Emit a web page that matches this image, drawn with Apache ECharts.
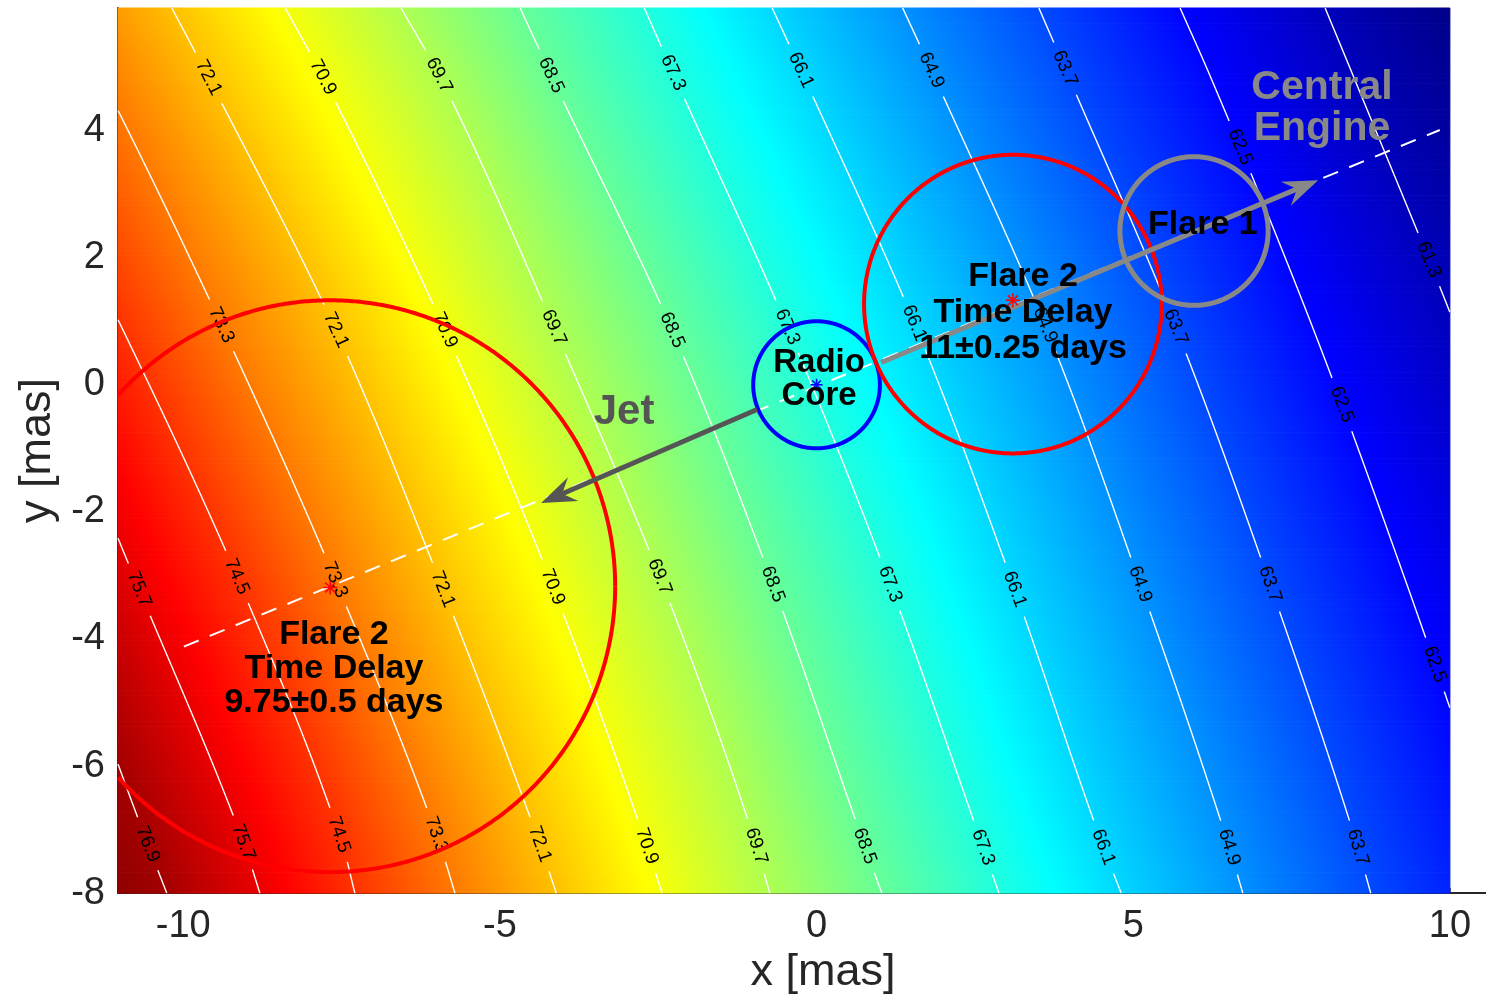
<!DOCTYPE html>
<html><head><meta charset="utf-8">
<script src="https://cdn.jsdelivr.net/npm/echarts@6/dist/echarts.min.js"></script>
<style>html,body{margin:0;padding:0;background:#fff}#chart{width:1486px;height:1000px}</style>
</head><body><div id="chart"></div>
<script>
// ================= DATA =================
// contour levels (first and last are estimated outer levels used for the corner fill only)
const contourLevels = [78.1, 76.9, 75.7, 74.5, 73.3, 72.1, 70.9, 69.7, 68.5, 67.3, 66.1, 64.9, 63.7, 62.5, 61.3, 60.1];
// y rows (mas) at which the contour x positions were read
const rowY = [5.93, 4.87, 0.86, -3.14, -7.23, -8.0];
// x position (mas) of each contour at each row
const x78_1 = [-17.79, -17.23, -15.26, -13.52, -11.98, -11.66];
const x76_9 = [-16.35, -15.80, -13.78, -12.09, -10.56, -10.26];
const x75_7 = [-14.99, -14.44, -12.42, -10.73, -9.04, -8.79];
const x74_5 = [-13.52, -12.97, -10.95, -9.10, -7.49, -7.29];
const x73_3 = [-11.88, -11.31, -9.36, -7.57, -5.95, -5.71];
const x72_1 = [-10.18, -9.62, -7.59, -5.93, -4.37, -4.11];
const x70_9 = [-8.39, -7.81, -5.87, -4.18, -2.69, -2.44];
const x69_7 = [-6.56, -5.96, -4.13, -2.43, -0.96, -0.74];
const x68_5 = [-4.68, -4.19, -2.28, -0.69, 0.75, 1.03];
const x67_3 = [-2.72, -2.25, -0.44, 1.16, 2.61, 2.88];
const x66_1 = [-0.70, -0.21, 1.59, 3.10, 4.51, 4.81];
const x64_9 = [1.36, 1.85, 3.64, 5.11, 6.50, 6.73];
const x63_7 = [3.51, 3.97, 5.69, 7.16, 8.53, 8.75];
const x62_5 = [5.74, 6.21, 7.85, 9.32, 10.74, 11.01];
const x61_3 = [8.03, 8.47, 10.11, 11.59, 13.00, 13.27];
const x60_1 = [10.39, 10.87, 12.45, 13.95, 15.37, 15.65];
const contourX = [x78_1, x76_9, x75_7, x74_5, x73_3, x72_1, x70_9, x69_7, x68_5, x67_3, x66_1, x64_9, x63_7, x62_5, x61_3, x60_1];

// contour labels: level and y (mas) of the label centre
const labelLevel = [72.1,70.9,69.7,68.5,67.3,66.1,64.9,63.7,62.5,61.3,
  73.3,72.1,70.9,69.7,68.5,67.3,66.1,64.9,63.7,62.5,
  75.7,74.5,73.3,72.1,70.9,69.7,68.5,67.3,66.1,64.9,63.7,62.5,
  76.9,75.7,74.5,73.3,72.1,70.9,69.7,68.5,67.3,66.1,64.9,63.7];
const labelY = [4.83,4.84,4.87,4.87,4.91,4.95,4.95,4.98,3.74,1.97,
  0.94,0.86,0.86,0.90,0.86,0.91,0.97,0.94,0.91,-0.31,
  -3.22,-3.02,-3.07,-3.22,-3.18,-3.02,-3.14,-3.14,-3.22,-3.14,-3.14,-4.40,
  -7.23,-7.20,-7.08,-7.08,-7.23,-7.26,-7.26,-7.26,-7.28,-7.28,-7.28,-7.28];

// colour range of the map
const colorMin = 60.3, colorMax = 77.5;
// extent of the coloured map
const mapXMin = -11.03, mapXMax = 10, mapYMin = -8, mapYMax = 5.93;
// axis ticks
const xTicks = [-10, -5, 0, 5, 10];
const yTicks = [-8, -6, -4, -2, 0, 2, 4];

// circles (centre x, centre y, radius in mas)
const circleX = [0, 3.10, 5.96, -7.68];
const circleY = [0, 1.27, 2.42, -3.17];
const circleR = [1.0, 2.35, 1.17, 4.50];
// star markers
const starX = [0, 3.10, -7.68];
const starY = [0, 1.33, -3.19];
// dashed jet axis
const axisLineX = [-9.99, 9.84];
const axisLineY = [-4.12, 4.01];
// arrows: tail and tip
const arrowTailX = [-0.94, 1.02], arrowTailY = [-0.39, 0.35];
const arrowTipX = [-4.35, 7.92], arrowTipY = [-1.86, 3.22];
// annotation texts
const noteText = ['Flare 2\nTime Delay\n11\u00b10.25 days', 'Radio\nCore', 'Flare 1', 'Flare 2\nTime Delay\n9.75\u00b10.5 days', 'Jet', 'Central\nEngine'];
const noteX = [3.26, 0.04, 6.10, -7.62, -3.04, 7.98];
const noteY = [1.14, 0.09, 2.52, -4.47, -0.44, 4.36];

// ================= STYLES =================
const FONT = '"Liberation Sans", Arial, Helvetica, sans-serif';
const jet = ['#00007f','#0000ff','#007fff','#00ffff','#7fff7f','#ffff00','#ff7f00','#ff0000','#7f0000'];
const circleColor = ['#0000ff', '#ff0000', '#888888', '#ff0000'];
const circleWidth = [4, 4, 5, 4];
const starColor = ['#0000ff', '#ff0000', '#ff0000'];
const starSize = [6, 7, 7];
const arrowColor = ['#555555', '#888888'];
const noteFont = [34, 33, 34, 34, 42, 41];
const noteLine = [36, 33, 36, 34, 42, 41];
const noteColor = ['#000', '#000', '#000', '#000', '#555555', '#888888'];
const AXC = '#262626';
const SLICE = 0.08; // mas, vertical slice used to draw the smooth curves

// ================= HELPERS =================
function jetColor(v) {
  let t = (v - colorMin) / (colorMax - colorMin);
  t = Math.max(0, Math.min(1, t));
  return echarts.color.lerp(t, jet);
}
function gradStops(a, b) {
  const stops = [{offset: 0, color: jetColor(a)}];
  for (let k = 1; k < 8; k++) {
    const v = colorMin + k * (colorMax - colorMin) / 8;
    const o = (v - a) / (b - a);
    if (o > 0 && o < 1) stops.push({offset: o, color: jetColor(v)});
  }
  stops.push({offset: 1, color: jetColor(b)});
  stops.sort((p, q) => p.offset - q.offset);
  return stops;
}
// smooth (cubic Hermite) curve x(y) through the read points of one contour
function slopes(xs) {
  const n = rowY.length, sec = [], m = [];
  for (let r = 0; r < n - 1; r++) sec.push((xs[r + 1] - xs[r]) / (rowY[r + 1] - rowY[r]));
  m.push(sec[0]);
  for (let r = 1; r < n - 1; r++) m.push((sec[r - 1] + sec[r]) / 2);
  m.push(sec[n - 2]);
  return m;
}
function xAtY(xs, m, y) {
  let r = 0;
  while (r < rowY.length - 2 && y < rowY[r + 1]) r++;
  const h = rowY[r + 1] - rowY[r];
  const t = (y - rowY[r]) / h;
  const t2 = t * t, t3 = t2 * t;
  return (2 * t3 - 3 * t2 + 1) * xs[r] + (t3 - 2 * t2 + t) * h * m[r] + (-2 * t3 + 3 * t2) * xs[r + 1] + (t3 - t2) * h * m[r + 1];
}
function sampleYs() {
  const ys = [];
  const n = Math.ceil((rowY[0] - rowY[rowY.length - 1]) / SLICE);
  for (let k = 0; k <= n; k++) ys.push(rowY[0] + (rowY[rowY.length - 1] - rowY[0]) * k / n);
  return ys;
}
function mapRect(api) {
  const p0 = api.coord([mapXMin, mapYMax]);
  const p1 = api.coord([mapXMax, mapYMin]);
  return {x0: p0[0], y0: p0[1], x1: p1[0], y1: p1[1]};
}
function clipPoly(pts, R) {
  const ix = (a, b, x) => { const t = (x - a[0]) / (b[0] - a[0]); return [x, a[1] + t * (b[1] - a[1])]; };
  const iy = (a, b, y) => { const t = (y - a[1]) / (b[1] - a[1]); return [a[0] + t * (b[0] - a[0]), y]; };
  const edges = [
    [p => p[0] >= R.x0, (a, b) => ix(a, b, R.x0)],
    [p => p[0] <= R.x1, (a, b) => ix(a, b, R.x1)],
    [p => p[1] >= R.y0, (a, b) => iy(a, b, R.y0)],
    [p => p[1] <= R.y1, (a, b) => iy(a, b, R.y1)]
  ];
  let out = pts;
  for (const [inside, inter] of edges) {
    const inp = out; out = [];
    if (!inp.length) break;
    for (let i = 0; i < inp.length; i++) {
      const cur = inp[i], prev = inp[(i + inp.length - 1) % inp.length];
      const ci = inside(cur), pi = inside(prev);
      if (ci) { if (!pi) out.push(inter(prev, cur)); out.push(cur); }
      else if (pi) out.push(inter(prev, cur));
    }
  }
  return out;
}
function densify(pts, step) {
  const out = [];
  for (let i = 0; i < pts.length - 1; i++) {
    const a = pts[i], b = pts[i + 1];
    const n = Math.max(1, Math.ceil(Math.hypot(b[0] - a[0], b[1] - a[1]) / step));
    for (let k = 0; k < n; k++) out.push([a[0] + (b[0] - a[0]) * k / n, a[1] + (b[1] - a[1]) * k / n]);
  }
  out.push(pts[pts.length - 1]);
  return out;
}
function runs(points, keep) {
  const res = []; let cur = [];
  for (const p of points) {
    if (keep(p)) cur.push(p);
    else { if (cur.length > 1) res.push(cur); cur = []; }
  }
  if (cur.length > 1) res.push(cur);
  return res;
}
const insideR = (R, p, tol) => p[0] >= R.x0 - tol && p[0] <= R.x1 + tol && p[1] >= R.y0 - tol && p[1] <= R.y1 + tol;
const unit = v => { const l = Math.hypot(v[0], v[1]); return [v[0] / l, v[1] / l]; };

// ================= RENDERERS =================
function renderBand(params, api) {
  const i = api.value(0);
  const A = contourX[i], B = contourX[i + 1];
  const mA = slopes(A), mB = slopes(B);
  const la = contourLevels[i], lb = contourLevels[i + 1];
  const ys = sampleYs();
  const pa = ys.map(y => api.coord([xAtY(A, mA, y), y]));
  const pb = ys.map(y => api.coord([xAtY(B, mB, y), y]));
  const R = mapRect(api);
  const stops = gradStops(la, lb);
  const children = [];
  for (let r = 0; r < ys.length - 1; r++) {
    const poly = clipPoly([pa[r], pa[r + 1], pb[r + 1], pb[r]], R);
    if (poly.length < 3) continue;
    const ym = (ys[r] + ys[r + 1]) / 2;
    const P0 = api.coord([xAtY(A, mA, ym), ym]);
    const Q0 = api.coord([xAtY(B, mB, ym), ym]);
    const ta = unit([pa[r + 1][0] - pa[r][0], pa[r + 1][1] - pa[r][1]]);
    const tb = unit([pb[r + 1][0] - pb[r][0], pb[r + 1][1] - pb[r][1]]);
    const t = unit([ta[0] + tb[0], ta[1] + tb[1]]);
    const n = [-t[1], t[0]];
    const d = (Q0[0] - P0[0]) * n[0] + (Q0[1] - P0[1]) * n[1];
    const E = [P0[0] + n[0] * d, P0[1] + n[1] * d];
    const g = {type: 'linear', x: P0[0], y: P0[1], x2: E[0], y2: E[1], colorStops: stops, global: true};
    children.push({type: 'polygon', silent: true, shape: {points: poly}, style: {fill: g, stroke: g, lineWidth: 1}});
  }
  return {type: 'group', children};
}

function renderContour(params, api) {
  const i = api.value(0);
  const level = contourLevels[i];
  const xs = contourX[i], m = slopes(xs);
  const ys = sampleYs();
  const pts = ys.map(y => api.coord([xAtY(xs, m, y), y]));
  const R = mapRect(api);
  const centers = [], children = [];
  for (let k = 0; k < labelLevel.length; k++) {
    if (labelLevel[k] !== level) continue;
    const y = labelY[k];
    const c = api.coord([xAtY(xs, m, y), y]);
    const a = api.coord([xAtY(xs, m, y + 0.05), y + 0.05]);
    const b = api.coord([xAtY(xs, m, y - 0.05), y - 0.05]);
    const ang = Math.atan2(b[1] - a[1], b[0] - a[0]);
    centers.push(c);
    children.push({type: 'text', silent: true, x: c[0], y: c[1], rotation: -ang, z2: 5,
      style: {text: level.toFixed(1), fill: '#000', fontSize: 19, fontFamily: FONT, align: 'center', verticalAlign: 'middle'}});
  }
  const dense = densify(pts, 1);
  const gap = 28;
  const segs = runs(dense, p => insideR(R, p, 0) && centers.every(c => Math.hypot(p[0] - c[0], p[1] - c[1]) > gap));
  segs.forEach(s => children.unshift({type: 'polyline', silent: true, shape: {points: s}, style: {stroke: '#ffffff', lineWidth: 1.4, fill: null}}));
  return {type: 'group', children};
}

function renderNotes(params, api) {
  const R = mapRect(api);
  const children = [];
  // dashed axis line
  const d0 = api.coord([axisLineX[0], axisLineY[0]]), d1 = api.coord([axisLineX[1], axisLineY[1]]);
  children.push({type: 'line', silent: true, shape: {x1: d0[0], y1: d0[1], x2: d1[0], y2: d1[1]},
    style: {stroke: '#ffffff', lineWidth: 2, lineDash: [16, 12]}});
  // circles
  for (let c = 0; c < circleX.length; c++) {
    const pts = [];
    for (let k = 0; k <= 720; k++) {
      const a = k / 720 * Math.PI * 2;
      pts.push(api.coord([circleX[c] + circleR[c] * Math.cos(a), circleY[c] + circleR[c] * Math.sin(a)]));
    }
    runs(pts, p => insideR(R, p, 0)).forEach(s => children.push({type: 'polyline', silent: true, shape: {points: s},
      style: {stroke: circleColor[c], lineWidth: circleWidth[c], fill: null, lineJoin: 'round'}}));
  }
  // arrows
  for (let a = 0; a < arrowTailX.length; a++) {
    const T = api.coord([arrowTailX[a], arrowTailY[a]]), P = api.coord([arrowTipX[a], arrowTipY[a]]);
    const dx = P[0] - T[0], dy = P[1] - T[1], L = Math.hypot(dx, dy);
    const u = [dx / L, dy / L], n = [-u[1], u[0]];
    const H = 35, W = 13, N = 23;
    const b1 = [P[0] - u[0] * H + n[0] * W, P[1] - u[1] * H + n[1] * W];
    const b2 = [P[0] - u[0] * H - n[0] * W, P[1] - u[1] * H - n[1] * W];
    const nt = [P[0] - u[0] * N, P[1] - u[1] * N];
    children.push({type: 'line', silent: true, shape: {x1: T[0], y1: T[1], x2: nt[0] + u[0] * 3, y2: nt[1] + u[1] * 3},
      style: {stroke: arrowColor[a], lineWidth: 5}});
    children.push({type: 'polygon', silent: true, shape: {points: [P, b1, nt, b2]}, style: {fill: arrowColor[a]}});
  }
  // star markers
  for (let s = 0; s < starX.length; s++) {
    const c = api.coord([starX[s], starY[s]]);
    const h = starSize[s];
    for (let k = 0; k < 4; k++) {
      const a = k * Math.PI / 4;
      children.push({type: 'line', silent: true,
        shape: {x1: c[0] - h * Math.cos(a), y1: c[1] - h * Math.sin(a), x2: c[0] + h * Math.cos(a), y2: c[1] + h * Math.sin(a)},
        style: {stroke: starColor[s], lineWidth: 1.6}});
    }
  }
  // texts
  for (let t = 0; t < noteText.length; t++) {
    const c = api.coord([noteX[t], noteY[t]]);
    children.push({type: 'text', silent: true, x: c[0], y: c[1],
      style: {text: noteText[t], fill: noteColor[t], fontSize: noteFont[t], fontWeight: 'bold', fontFamily: FONT,
        lineHeight: noteLine[t], align: 'center', verticalAlign: 'middle'}});
  }
  return {type: 'group', children};
}

// ================= CHART =================
const chart = echarts.init(document.getElementById('chart'), null, {renderer: 'canvas'});
const bandData = contourLevels.slice(0, -1).map((_, i) => [i, 0]);
const lineData = contourLevels.slice(1, -1).map((_, i) => [i + 1, 0]);
chart.setOption({
  animation: false,
  backgroundColor: '#ffffff',
  grid: {left: 118, right: 0, top: 8, bottom: 106},
  xAxis: {
    type: 'value', min: mapXMin, max: 10.57,
    axisLine: {show: true, onZero: false, lineStyle: {color: AXC, width: 2}},
    axisTick: {show: true, inside: true, length: 5, customValues: xTicks, lineStyle: {color: AXC, width: 1.5}},
    axisLabel: {show: true, customValues: xTicks, fontSize: 38, color: AXC, margin: 14, fontFamily: FONT},
    splitLine: {show: false},
    name: 'x [mas]', nameLocation: 'middle', nameGap: 50,
    nameTextStyle: {fontSize: 45, color: AXC, fontFamily: FONT, padding: [0, 0, 0, 42]}
  },
  yAxis: {
    type: 'value', min: mapYMin, max: mapYMax,
    axisLine: {show: true, onZero: false, lineStyle: {color: AXC, width: 2}},
    axisTick: {show: true, inside: true, length: 5, customValues: yTicks, lineStyle: {color: AXC, width: 1.5}},
    axisLabel: {show: true, customValues: yTicks, fontSize: 38, color: AXC, margin: 13, fontFamily: FONT},
    splitLine: {show: false},
    name: 'y [mas]', nameLocation: 'middle', nameGap: 58, nameRotate: 90,
    nameTextStyle: {fontSize: 45, color: AXC, fontFamily: FONT}
  },
  series: [
    {type: 'custom', coordinateSystem: 'cartesian2d', renderItem: renderBand, data: bandData, silent: true, z: 1},
    {type: 'custom', coordinateSystem: 'cartesian2d', renderItem: renderContour, data: lineData, silent: true, z: 2},
    {type: 'custom', coordinateSystem: 'cartesian2d', renderItem: renderNotes, data: [[0, 0]], silent: true, z: 3}
  ]
});
</script>
</body></html>
